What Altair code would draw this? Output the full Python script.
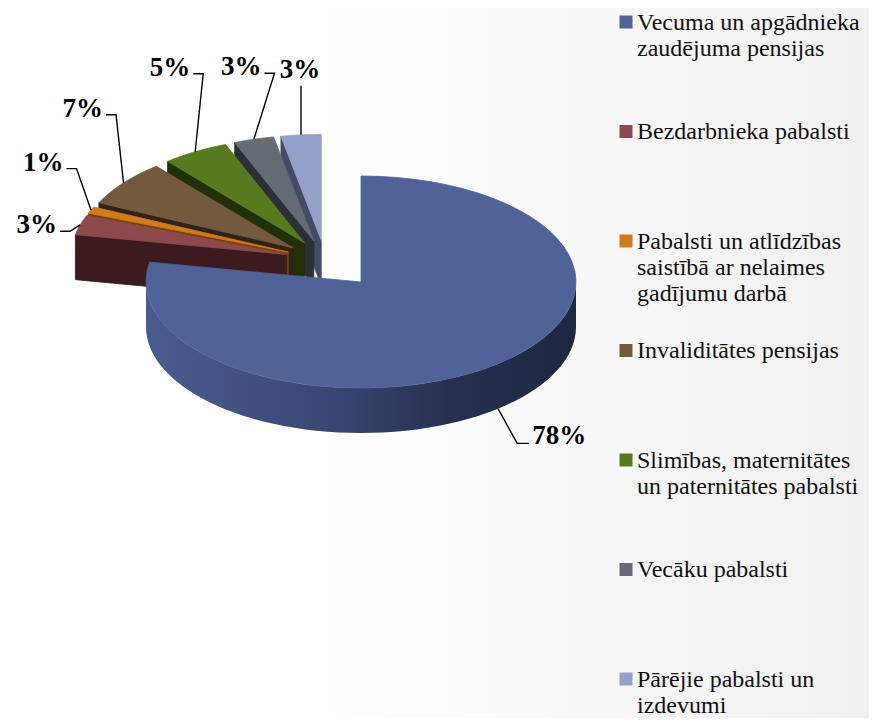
import numpy as np
import pandas as pd
import altair as alt

# ---------------- data ----------------
categories = [
    "Vecuma un apgādnieka zaudējuma pensijas",
    "Bezdarbnieka pabalsti",
    "Pabalsti un atlīdzības saistībā ar nelaimes gadījumu darbā",
    "Invaliditātes pensijas",
    "Slimības, maternitātes un paternitātes pabalsti",
    "Vecāku pabalsti",
    "Pārējie pabalsti un izdevumi",
]
legend_text = [
    "Vecuma un apgādnieka\nzaudējuma pensijas",
    "Bezdarbnieka pabalsti",
    "Pabalsti un atlīdzības\nsaistībā ar nelaimes\ngadījumu darbā",
    "Invaliditātes pensijas",
    "Slimības, maternitātes\nun paternitātes pabalsti",
    "Vecāku pabalsti",
    "Pārējie pabalsti un\nizdevumi",
]
shares = [78, 3, 1, 7, 5, 3, 3]

# ---------------- styles ----------------
top_colors = ["#4F6399", "#8C4A4C", "#D47A1E", "#735A3F", "#567A1C", "#636C74", "#93A0C8"]
side_colors = ["#34426C", "#3B1B1E", "#7A420A", "#30241A", "#22300A", "#2A3036", "#454B66"]
SERIF = "Liberation Serif"

# ---------------- layout (page pixels) ----------------
W, H = 861, 710
CX, CY, RX, RY, D = 361, 282, 215, 106, 45
GX, GY, EXP = -36, -22, 40
K = RY / RX
N = 60
LRX, LRY, CAP, MINX = 310, 240, 0.87, 70
STEP_DEG = 16

total = sum(shares)
cum = np.cumsum(shares)
mid_deg = (cum - np.array(shares) / 2) / total * 360
small = [i for i, s in enumerate(shares) if s / total < 0.5]
lab_deg = mid_deg.copy()
lab_deg[small] = mid_deg[small[0]] - 4 + STEP_DEG * np.arange(len(small))

df = pd.DataFrame({
    "cat": categories,
    "legend": legend_text,
    "share": shares,
    "idx": list(range(len(shares))),
    "lab": np.radians(lab_deg),
})

xs = alt.Scale(domain=[8, 8 + W], nice=False, zero=False)
ys = alt.Scale(domain=[8, 8 + H], nice=False, zero=False, reverse=True)
X = alt.X("x:Q", scale=xs, axis=None)
Y = alt.Y("y:Q", scale=ys, axis=None)
top_scale = alt.Scale(domain=categories, range=top_colors)
side_scale = alt.Scale(domain=categories, range=side_colors)

base = (
    alt.Chart(df)
    .transform_joinaggregate(total="sum(share)")
    .transform_window(cum="sum(share)", sort=[alt.SortField("idx")], frame=[None, 0])
    .transform_calculate(
        a0="2*PI*(datum.cum-datum.share)/datum.total",
        a1="2*PI*datum.cum/datum.total",
    )
    .transform_calculate(
        am="(datum.a0+datum.a1)/2",
        big="datum.share/datum.total >= 0.5 ? 1 : 0",
    )
    .transform_calculate(
        ox=f"datum.big ? 0 : {GX} + {EXP}*sin(datum.am)",
        oy=f"datum.big ? 0 : {GY} - {EXP * K}*cos(datum.am)",
    )
)

# background shading (slide-like, light grey towards the right edge)
bg = (
    alt.Chart(df)
    .transform_aggregate(n="count()")
    .mark_rect(
        fill=alt.LinearGradient(
            gradient="linear",
            stops=[
                alt.GradientStop(color="#FFFFFF", offset=0),
                alt.GradientStop(color="#FFFFFF", offset=0.35),
                alt.GradientStop(color="#F1F1F1", offset=1),
            ],
            x1=0, x2=1, y1=0, y2=0,
        )
    )
    .encode(x=alt.value(0), x2=alt.value(W), y=alt.value(0), y2=alt.value(H))
)

# top faces
def top_faces(flt):
    return (
        base.transform_filter(flt)
        .transform_calculate(pts=f"sequence(0, {N + 2})")
        .transform_flatten(["pts"], as_=["p"])
        .transform_calculate(ang=f"datum.a0 + (datum.a1-datum.a0)*(datum.p-1)/{N}")
        .transform_calculate(
            x=f"{CX} + datum.ox + (datum.p == 0 ? 0 : {RX}*sin(datum.ang))",
            y=f"{CY} + datum.oy - (datum.p == 0 ? 0 : {RY}*cos(datum.ang))",
        )
        .mark_line(interpolate="linear-closed", strokeWidth=0.8, strokeJoin="round")
        .encode(
            x=X, y=Y, order=alt.Order("p:Q"), detail="cat:N",
            fill=alt.Fill("cat:N", scale=top_scale, legend=None),
            stroke=alt.Stroke("cat:N", scale=top_scale, legend=None),
        )
    )

# radial (front-facing) side face of one exploded small slice
def small_side(i):
    return (
        base.transform_filter(f"datum.big == 0 && datum.idx == {i}")
        .transform_calculate(pts="sequence(0, 4)")
        .transform_flatten(["pts"], as_=["p"])
        .transform_calculate(
            x=f"{CX} + datum.ox + ((datum.p == 1 || datum.p == 2) ? {RX}*sin(datum.a0) : 0)",
            y=f"{CY} + datum.oy - ((datum.p == 1 || datum.p == 2) ? {RY}*cos(datum.a0) : 0) + (datum.p >= 2 ? {D} : 0)",
        )
        .mark_line(interpolate="linear-closed", strokeWidth=0.8, strokeJoin="round")
        .encode(
            x=X, y=Y, order=alt.Order("p:Q"),
            fill=alt.Fill("cat:N", scale=side_scale, legend=None),
            stroke=alt.Stroke("cat:N", scale=side_scale, legend=None),
        )
    )

# back-most slices first
side_layers = [small_side(i) for i in sorted(small, reverse=True)]

# front band of the big slice
blue_grad = alt.LinearGradient(
    gradient="linear",
    stops=[
        alt.GradientStop(color="#4A5B90", offset=0),
        alt.GradientStop(color="#3A4875", offset=0.4),
        alt.GradientStop(color="#27314F", offset=0.7),
        alt.GradientStop(color="#1E2640", offset=1),
    ],
    x1=0, x2=1, y1=0, y2=0,
)
big_band = (
    base.transform_filter("datum.big == 1")
    .transform_calculate(
        b0="max(datum.a0, PI/2)", b1="min(datum.a1, 3*PI/2)",
        pts=f"sequence(0, {2 * N + 2})",
    )
    .transform_flatten(["pts"], as_=["p"])
    .transform_calculate(
        ang=f"datum.p <= {N} ? datum.b0 + (datum.b1-datum.b0)*datum.p/{N} : datum.b1 - (datum.b1-datum.b0)*(datum.p-{N + 1})/{N}"
    )
    .transform_calculate(
        x=f"{CX} + datum.ox + {RX}*sin(datum.ang)",
        y=f"{CY} + datum.oy - {RY}*cos(datum.ang) + (datum.p > {N} ? {D} : 0)",
    )
    .mark_line(interpolate="linear-closed", fill=blue_grad, strokeOpacity=0)
    .encode(x=X, y=Y, order=alt.Order("p:Q"))
)

# leader lines and labels
lead = (
    base.transform_calculate(
        ax=f"{CX} + datum.ox + {RX}*sin(datum.am)",
        ay=f"{CY} + datum.oy - {RY}*cos(datum.am) + (cos(datum.am) < 0 ? {D} : 0)",
        side="abs(sin(datum.am)) < 0.2 ? 'top' : (sin(datum.am) < 0 ? 'left' : 'right')",
        front="cos(datum.lab) < 0 ? 1 : 0",
        txt="datum.share + '%'",
    )
    .transform_calculate(
        ex=f"datum.side == 'top' ? datum.ax : (datum.front ? {CX} + {RX + 30}*sin(datum.lab) : max({MINX}, {CX} + {LRX}*sin(datum.am)))",
        ey=f"datum.side == 'top' ? datum.ay - 49 : (datum.front ? {CY + D} - {RY + 45}*cos(datum.lab) : {CY} - {LRY}*min(cos(datum.lab), {CAP}))",
    )
    .transform_calculate(
        hx="datum.side == 'top' ? datum.ex : (datum.side == 'left' ? datum.ex - 10 : datum.ex + 12)",
        hy="datum.ey",
    )
)
leaders = (
    lead.transform_calculate(pts="sequence(0, 3)")
    .transform_flatten(["pts"], as_=["p"])
    .transform_calculate(
        x="datum.p == 0 ? datum.ax : (datum.p == 1 ? datum.ex : datum.hx)",
        y="datum.p == 0 ? datum.ay : (datum.p == 1 ? datum.ey : datum.hy)",
    )
    .mark_line(color="black", strokeWidth=1.4)
    .encode(x=X, y=Y, order=alt.Order("p:Q"), detail="cat:N")
)

def label_layer(side, align, dx_expr, dy_expr):
    return (
        lead.transform_filter(f"datum.side == '{side}'")
        .transform_calculate(x=dx_expr, y=dy_expr)
        .mark_text(align=align, baseline="middle", font=SERIF, fontSize=27,
                   fontWeight="bold", color="black")
        .encode(x=X, y=Y, text="txt:N")
    )

lab_left = label_layer("left", "right", "datum.hx - 3", "datum.hy - 6")
lab_right = label_layer("right", "left", "datum.hx + 3", "datum.hy - 7")
lab_top = label_layer("top", "center", "datum.ex - 1", "datum.ey - 16")

# legend
LEG_X, LEG_Y, LEG_STEP = 626, 22, 109.5
leg_sq = (
    alt.Chart(df)
    .transform_calculate(x=f"{LEG_X}", y=f"{LEG_Y} + datum.idx*{LEG_STEP}")
    .mark_square(size=169, opacity=1)
    .encode(x=X, y=Y, color=alt.Color("cat:N", scale=top_scale, legend=None))
)
leg_txt = (
    alt.Chart(df)
    .transform_calculate(x=f"{LEG_X + 11}", y=f"{LEG_Y + 7.5} + datum.idx*{LEG_STEP}")
    .mark_text(align="left", baseline="alphabetic", lineBreak="\n", lineHeight=26,
               font=SERIF, fontSize=24, color="#111111")
    .encode(x=X, y=Y, text="legend:N")
)

chart = (
    alt.layer(
        bg,
        *side_layers,
        top_faces("datum.big == 0"),
        big_band,
        top_faces("datum.big == 1"),
        leaders,
        lab_left, lab_right, lab_top,
        leg_sq, leg_txt,
    )
    .resolve_scale(fill="independent", stroke="independent", color="independent")
    .properties(width=W, height=H, padding=0, autosize="none", background="white")
    .configure_view(strokeWidth=0)
)

chart.save("out.html", embed_options={"renderer": "svg", "actions": False})
